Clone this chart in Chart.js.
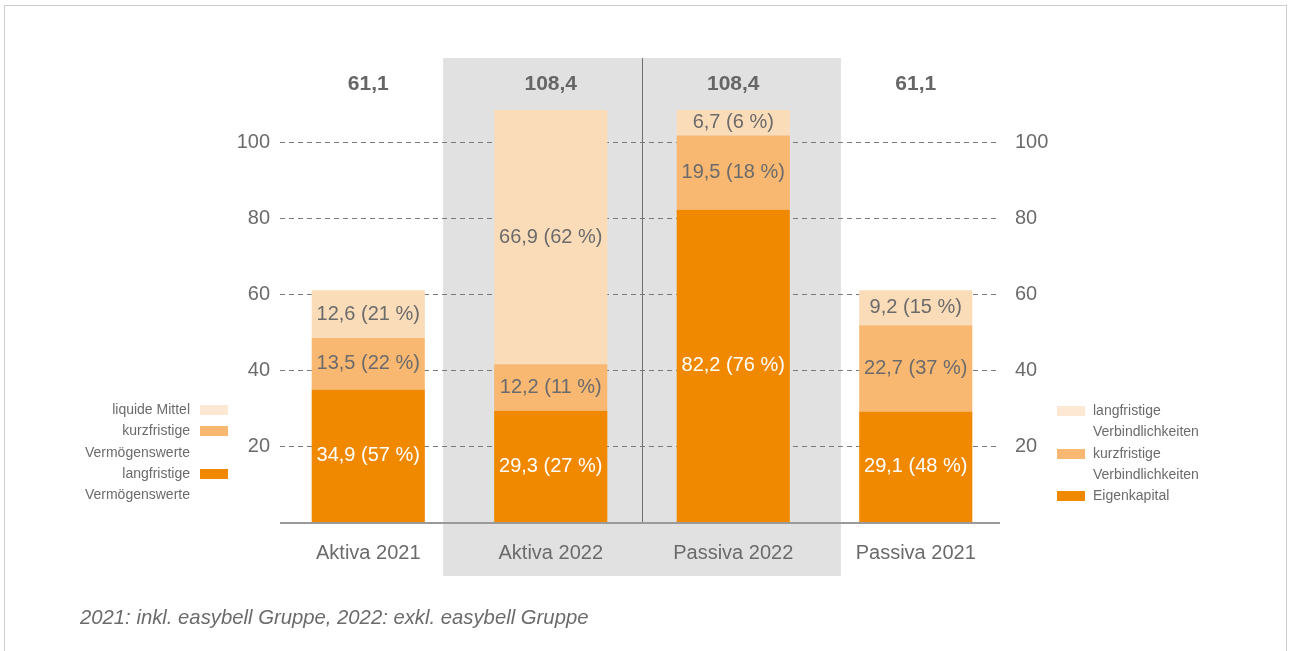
<!DOCTYPE html>
<html lang="de">
<head>
<meta charset="utf-8">
<script src="https://cdn.jsdelivr.net/npm/chart.js@4/dist/chart.umd.min.js"></script>
<style>
  body { margin: 0; background: #fff; font-family: "Liberation Sans", Arial, sans-serif; }
  #wrap { position: relative; width: 1291px; height: 651px; overflow: hidden; }
  #frame { position: absolute; left: 4px; top: 5px; width: 1281px; height: 700px; border: 1px solid #cfcfcf; }
  #chartBox { position: absolute; left: 0; top: 0; width: 1291px; height: 651px; }
  .legend { position: absolute; font-size: 14px; color: #6b6b6b; line-height: 21.3px; }
  .legend .row { position: relative; white-space: nowrap; }
  .legend .box { position: absolute; width: 28px; height: 10px; top: 6px; }
  #legendLeft { left: 40px; top: 399px; width: 150px; text-align: right; }
  #legendLeft .box { left: 160px; }
  #legendRight { left: 1093px; top: 400px; }
  #legendRight .box { left: -36px; }
  #note { position: absolute; left: 80px; top: 606px; font-size: 20.3px; font-style: italic; color: #6b6b6b; }
</style>
</head>
<body>
<div id="wrap">
  <div id="frame"></div>
  <div id="chartBox"><canvas id="bilanzChart"></canvas></div>
  <div class="legend" id="legendLeft"></div>
  <div class="legend" id="legendRight"></div>
  <div id="note">2021: inkl. easybell Gruppe, 2022: exkl. easybell Gruppe</div>
</div>
<script>
// Kategorien und Werte (Mio. EUR)
const categories = ['Aktiva 2021', 'Aktiva 2022', 'Passiva 2022', 'Passiva 2021'];
const totals = [61.1, 108.4, 108.4, 61.1];

// unten, mitte, oben
const bottomValues = [34.9, 29.3, 82.2, 29.1];
const middleValues = [13.5, 12.2, 19.5, 22.7];
const topValues = [12.6, 66.9, 6.7, 9.2];
const bottomPct = [57, 27, 76, 48];
const middlePct = [22, 11, 18, 37];
const topPct = [21, 62, 6, 15];

const yTicks = [20, 40, 60, 80, 100];

// Legenden (links Aktiva, rechts Passiva)
const aktivaLegend = [['liquide Mittel'], ['kurzfristige', 'Vermögenswerte'], ['langfristige', 'Vermögenswerte']];
const passivaLegend = [['langfristige', 'Verbindlichkeiten'], ['kurzfristige', 'Verbindlichkeiten'], ['Eigenkapital']];

const colDark = '#f08800';
const colMid = '#f8b872';
const colLight = '#fbdcb9';
const legendColors = ['#fde8d3', colMid, colDark];
const textGray = '#6b6b6b';

function fmt(v) {
    return v.toFixed(1).replace('.', ',');
}

function buildLegend(el, items) {
    items.forEach((lines, i) => {
        lines.forEach((line, j) => {
            const row = document.createElement('div');
            row.className = 'row';
            row.textContent = line;
            if (j === 0) {
                const box = document.createElement('span');
                box.className = 'box';
                box.style.background = legendColors[i];
                row.appendChild(box);
            }
            el.appendChild(row);
        });
    });
}
buildLegend(document.getElementById('legendLeft'), aktivaLegend);
buildLegend(document.getElementById('legendRight'), passivaLegend);

// graues Band, Trennlinie, gestrichelte Hilfslinien und Grundlinie
const bandPlugin = {
    id: 'band',
    beforeDraw(chart) {
        const ctx = chart.ctx;
        const x = chart.scales.x;
        const y = chart.scales.y;
        const area = chart.chartArea;
        const x1 = x.getPixelForValue(1);
        const x2 = x.getPixelForValue(2);
        const mid = (x1 + x2) / 2;
        const half = (x2 - x1) * 1.09;
        const gl = area.left + 3, gr = area.right - 7;
        ctx.save();
        ctx.fillStyle = '#e1e1e1';
        ctx.fillRect(mid - half, area.top - 46, half * 2, area.bottom - area.top + 100);

        ctx.strokeStyle = '#7a7a7a';
        ctx.lineWidth = 1;
        ctx.setLineDash([5, 4]);
        yTicks.forEach(v => {
            const py = Math.round(y.getPixelForValue(v)) + 0.5;
            ctx.beginPath();
            ctx.moveTo(gl, py);
            ctx.lineTo(gr, py);
            ctx.stroke();
        });
        ctx.setLineDash([]);

        ctx.strokeStyle = '#6e6e6e';
        ctx.beginPath();
        ctx.moveTo(Math.round(mid) + 0.5, area.top - 46);
        ctx.lineTo(Math.round(mid) + 0.5, area.bottom);
        ctx.stroke();
        ctx.restore();
    },
    afterDatasetsDraw(chart) {
        const ctx = chart.ctx;
        const area = chart.chartArea;
        ctx.save();
        ctx.strokeStyle = '#9a9a9a';
        ctx.lineWidth = 2;
        ctx.beginPath();
        ctx.moveTo(area.left + 3, area.bottom + 1);
        ctx.lineTo(area.right - 7, area.bottom + 1);
        ctx.stroke();
        ctx.restore();
    }
};

// Werte in den Segmenten + Summen oben
const pctSets = [bottomPct, middlePct, topPct];
const labelPlugin = {
    id: 'segLabels',
    afterDatasetsDraw(chart) {
        const ctx = chart.ctx;
        ctx.save();
        ctx.textAlign = 'center';
        ctx.textBaseline = 'middle';
        ctx.font = '20px "Liberation Sans", Arial, sans-serif';
        chart.data.datasets.forEach((ds, di) => {
            const meta = chart.getDatasetMeta(di);
            meta.data.forEach((bar, i) => {
                const v = ds.data[i];
                ctx.fillStyle = di === 0 ? '#ffffff' : textGray;
                ctx.fillText(fmt(v) + ' (' + pctSets[di][i] + '\u00a0%)', bar.x, (bar.y + bar.base) / 2);
            });
        });
        ctx.font = 'bold 21px "Liberation Sans", Arial, sans-serif';
        ctx.fillStyle = '#666666';
        const x = chart.scales.x;
        totals.forEach((t, i) => {
            ctx.fillText(fmt(t), x.getPixelForValue(i), chart.chartArea.top - 20);
        });
        ctx.restore();
    }
};

const tickFont = { family: '"Liberation Sans", Arial, sans-serif', size: 20 };

new Chart(document.getElementById('bilanzChart'), {
    type: 'bar',
    data: {
        labels: categories,
        datasets: [
            { label: 'unten', data: bottomValues, backgroundColor: colDark },
            { label: 'mitte', data: middleValues, backgroundColor: colMid },
            { label: 'oben', data: topValues, backgroundColor: colLight }
        ]
    },
    options: {
        responsive: true,
        maintainAspectRatio: false,
        animation: false,
        layout: { padding: { top: 104, left: 0, right: 0, bottom: 0 } },
        datasets: { bar: { barPercentage: 0.62, categoryPercentage: 1, borderWidth: 0 } },
        plugins: {
            legend: { display: false },
            tooltip: { enabled: false }
        },
        scales: {
            x: {
                stacked: true,
                grid: { display: false, drawTicks: false },
                border: { display: false },
                ticks: { font: tickFont, color: textGray, padding: 19, autoSkip: false, maxRotation: 0, minRotation: 0 },
                afterFit(scale) { scale.height = 129; }
            },
            y: {
                stacked: true,
                min: 0,
                max: 110,
                position: 'left',
                afterBuildTicks(scale) { scale.ticks = yTicks.map(v => ({ value: v })); },
                grid: { display: false, drawTicks: false },
                border: { display: false },
                ticks: { font: tickFont, color: textGray, padding: 7 },
                afterFit(scale) { scale.width = 277; }
            },
            y2: {
                min: 0,
                max: 110,
                position: 'right',
                afterBuildTicks(scale) { scale.ticks = yTicks.map(v => ({ value: v })); },
                grid: { display: false, drawTicks: false },
                border: { display: false },
                ticks: { font: tickFont, color: textGray, padding: 8 },
                afterFit(scale) { scale.width = 284; }
            }
        }
    },
    plugins: [bandPlugin, labelPlugin]
});
</script>
</body>
</html>
